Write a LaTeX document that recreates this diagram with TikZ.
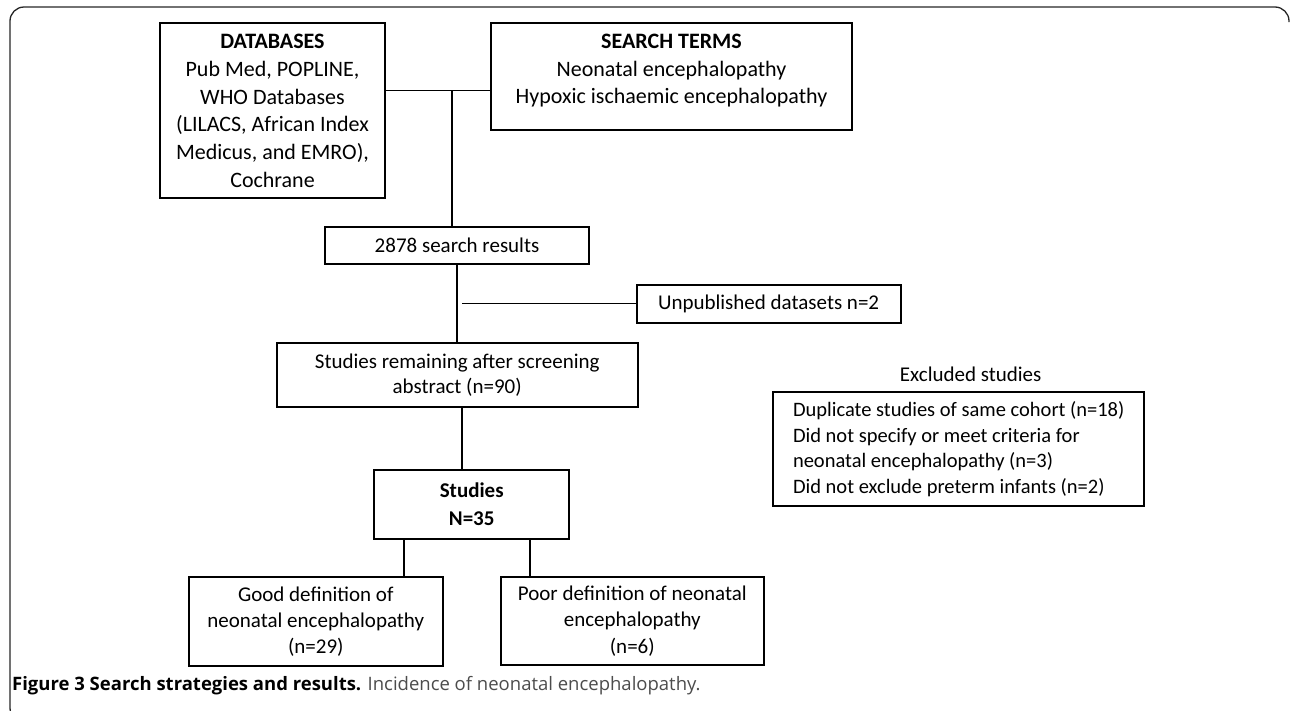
\documentclass[tikz,border=0pt]{standalone}
\usepackage{fontspec}
\setmainfont{Carlito}
\newfontfamily\capfont{Open Sans}

\begin{document}
\begin{tikzpicture}[
    x=1pt,
    y=-1pt,
    font=\fontsize{21}{27.7}\selectfont,
    box/.style={
        draw=black,
        line width=1.9pt,
        rectangle,
        align=center,
        inner sep=0pt
    },
    list/.style={
        draw=black,
        line width=1.9pt,
        rectangle,
        align=left,
        inner sep=0pt,
        font=\fontsize{20.5}{25.5}\selectfont
    },
    link/.style={
        line width=1.5pt
    },
    frame/.style={
        line width=1.3pt,
        draw=black!85,
        rounded corners=14pt
    },
    caption/.style={
        font=\capfont\fontsize{18.5}{21}\selectfont,
        inner sep=0pt
    }
]

\useasboundingbox (0,0) rectangle (1290,710);

\begin{scope}
    \clip (0,0) rectangle (1290,710);
    \draw[frame] (1289,22) -- (1289,7) -- (10,7) -- (10,722) -- (40,722);
\end{scope}

\node[box, minimum width=225, minimum height=175,
      font=\fontsize{22}{27.7}\selectfont] (db) at (272.5,110.8)
    {\textbf{DATABASES}\\
     Pub Med, POPLINE,\\
     WHO Databases\\
     (LILACS, African Index\\
     Medicus, and EMRO),\\
     Cochrane};

\node[box, minimum width=361.6, minimum height=106.7,
      font=\fontsize{22}{27.7}\selectfont] (terms) at (671.5,76.7)
    {\textbf{SEARCH TERMS}\\
     Neonatal encephalopathy\\
     Hypoxic ischaemic encephalopathy\\[-12pt]
     \mbox{}};

\node[box, minimum width=264, minimum height=37] (results) at (457,245.5)
    {2878 search results};

\node[box, minimum width=264, minimum height=38] (unpub) at (768.6,303.6)
    {Unpublished datasets n=2};

\node[box, minimum width=361, minimum height=63.4,
      font=\fontsize{21}{25.6}\selectfont] (remain) at (457.2,375)
    {Studies remaining after screening\\
     abstract (n=90)};

\node[box, minimum width=195.3, minimum height=69] (studies) at (471.7,504.5)
    {\textbf{Studies}\\
     \textbf{N=35}};

\node[box, minimum width=253.7, minimum height=89,
      font=\fontsize{21}{26.2}\selectfont] (good) at (315.8,621.5)
    {Good definition of\\
     neonatal encephalopathy\\
     (n=29)};

\node[box, minimum width=263.3, minimum height=88,
      font=\fontsize{21}{26.2}\selectfont] (poor) at (632.3,621)
    {Poor definition of neonatal\\
     encephalopathy\\
     (n=6)};

\node (excltitle) at (970.7,374)
    {Excluded studies};

\node[list, minimum width=370.7, minimum height=114] (excl) at (958.7,449.3)
    {Duplicate studies of same cohort (n=18)\\
     Did not specify or meet criteria for\\
     neonatal encephalopathy (n=3)\\
     Did not exclude preterm infants (n=2)};

\node[caption, anchor=west] (caption) at (12,686)
    {\textbf{Figure 3 Search strategies and results.}
     \textcolor{black!70}{Incidence of neonatal encephalopathy.}};


\coordinate (top) at (452,90.7);
\coordinate (side) at (462,303.6);
\coordinate (mid) at (462,0);
\coordinate (lft) at (404,0);
\coordinate (rgt) at (530,0);

\draw[link]
    (db.east |- top) --
    (terms.west |- top);

\draw[link]
    (top) --
    (results.north -| top);

\draw[link]
    (results.south) --
    (remain.north -| results.south);

\draw[link]
    (side) --
    (unpub.west);

\draw[link]
    (remain.south -| mid) --
    (studies.north -| mid);

\draw[link]
    (studies.south -| lft) --
    (good.north -| lft);

\draw[link]
    (studies.south -| rgt) --
    (poor.north -| rgt);

\end{tikzpicture}
\end{document}
